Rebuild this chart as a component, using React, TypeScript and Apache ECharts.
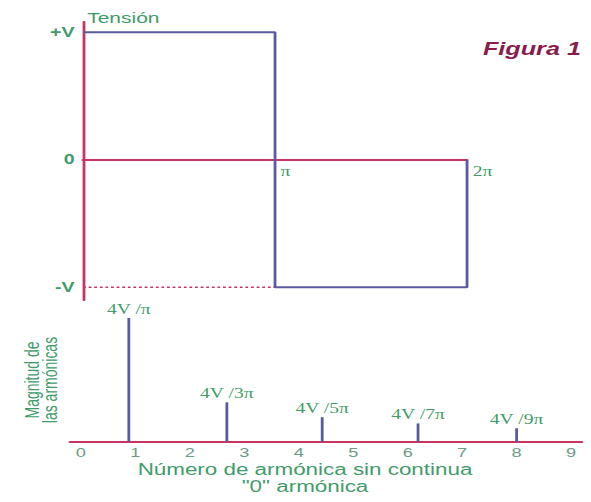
import React, { useEffect, useRef } from 'react';
import * as echarts from 'echarts';

// Square wave (x in units of π, y in units of V)
const waveX = [0, 1, 1, 2, 2];
const waveY = [1, 1, -1, -1, 0];
const dottedX = [0, 1];
const dottedY = [-1, -1];
const levelValues = [1, 0, -1];
const levelLabels = ['+V', '0', '-V'];
const phaseValues = [1, 2];
const phaseLabels = ['π', '2π'];

// Harmonic spectrum
const harmonicTicks = [0, 1, 2, 3, 4, 5, 6, 7, 8, 9];
const harmonicPos = [0.88, 2.68, 4.43, 6.19, 8.0];
const harmonicMag = [1.0, 0.32, 0.2, 0.15, 0.11];
const harmonicLabels = ['4V /π', '4V /3π', '4V /5π', '4V /7π', '4V /9π'];

const GREEN = '#3f9c6a';
const TICK_GREEN = '#6b9c84';
const RED = '#c8345f';
const BLUE = '#5b5a9e';
const FIG = '#8a1c4c';
const SANS = "'Liberation Sans', Arial, sans-serif";
const SERIF = "'Liberation Serif', 'Times New Roman', serif";

const STRETCH = 1.4;
const OUTER_W = 591;
const H = 502;
const INNER_W = OUTER_W / STRETCH;

const TOP_GRID = { top: 22, height: 278 };
const Y_MIN = -1.1;
const Y_MAX = 1.08;

export default function App() {
  const ref = useRef<HTMLDivElement>(null);
  useEffect(() => {
    if (!ref.current) return;
    const chart = echarts.init(ref.current, undefined, { renderer: 'svg' });
    // distance from grid bottom to the zero line (moves the x axis there)
    const zeroOffset = -(TOP_GRID.height * (0 - Y_MIN)) / (Y_MAX - Y_MIN);
    const option: any = {
      animation: false,
      backgroundColor: '#ffffff',
      title: {
        text: 'Figura 1',
        right: 2,
        top: 35,
        textStyle: { color: FIG, fontSize: 18, fontWeight: 'bold', fontStyle: 'italic', fontFamily: SANS },
      },
      grid: [
        { left: 59.3, top: TOP_GRID.top, width: 274.3, height: TOP_GRID.height, outerBoundsMode: 'none' },
        { left: 50, top: 318, width: 365.7, height: 124, outerBoundsMode: 'none' },
      ],
      xAxis: [
        {
          type: 'value', gridIndex: 0, min: 0, max: 2,
          position: 'bottom',
          offset: zeroOffset,
          axisLine: { onZero: false, lineStyle: { color: RED, width: 2 } },
          axisTick: { show: false },
          splitLine: { show: false },
          axisLabel: {
            customValues: phaseValues,
            formatter: (v: number) => phaseLabels[phaseValues.indexOf(v)] ?? '',
            color: GREEN, fontFamily: SERIF, fontSize: 14,
            align: 'left', verticalAlign: 'top', margin: 5, padding: [0, 0, 0, 4],
          },
        },
        {
          type: 'value', gridIndex: 1, min: -0.2, max: 9.2,
          axisLine: { onZero: true, lineStyle: { color: RED, width: 2 } },
          axisTick: { show: false },
          splitLine: { show: false },
          axisLabel: {
            customValues: harmonicTicks,
            color: TICK_GREEN, fontFamily: SANS, fontSize: 13, lineHeight: 13, margin: 4,
          },
          name: 'Número de armónica sin continua\n"0" armónica',
          nameLocation: 'middle',
          nameGap: 19,
          nameMoveOverlap: false,
          nameTextStyle: {
            color: GREEN, fontFamily: SANS, fontSize: 16, lineHeight: 17,
            verticalAlign: 'top', padding: [0, 30, 0, 0],
          },
        },
      ],
      yAxis: [
        {
          type: 'value', gridIndex: 0, min: Y_MIN, max: Y_MAX,
          axisLine: { show: true, onZero: false, lineStyle: { color: RED, width: 2 } },
          axisTick: { show: false },
          splitLine: { show: false },
          axisLabel: {
            customValues: levelValues,
            formatter: (v: number) => levelLabels[levelValues.indexOf(v)] ?? '',
            color: GREEN, fontFamily: SANS, fontSize: 14, fontWeight: 'bold', margin: 6,
          },
          name: 'Tensión',
          nameLocation: 'end',
          nameGap: 4,
          nameTextStyle: {
            color: GREEN, fontFamily: SANS, fontSize: 15,
            align: 'left', verticalAlign: 'middle', padding: [0, 0, 0, 3],
          },
        },
        {
          type: 'value', gridIndex: 1, min: 0, max: 1,
          axisLine: { show: false },
          axisTick: { show: false },
          axisLabel: { show: false },
          splitLine: { show: false },
          name: 'Magnitud de\nlas armónicas',
          nameLocation: 'middle',
          nameRotate: 90,
          nameGap: 7,
          nameMoveOverlap: false,
          nameTextStyle: { color: GREEN, fontFamily: SANS, fontSize: 14, lineHeight: 13 },
        },
      ],
      series: [
        {
          type: 'line', xAxisIndex: 0, yAxisIndex: 0,
          data: dottedX.map((x, i) => [x, dottedY[i]]),
          symbol: 'none',
          lineStyle: { color: RED, width: 1.5, type: [2, 2] },
          z: 2,
        },
        {
          type: 'line', xAxisIndex: 0, yAxisIndex: 0,
          data: waveX.map((x, i) => [x, waveY[i]]),
          symbol: 'none',
          lineStyle: { color: BLUE, width: 2 },
          z: 3,
        },
        {
          type: 'bar', xAxisIndex: 1, yAxisIndex: 1,
          data: harmonicPos.map((x, i) => [x, harmonicMag[i]]),
          barWidth: 2,
          itemStyle: { color: BLUE },
          label: {
            show: true, position: 'top', distance: 2,
            formatter: (p: any) => harmonicLabels[p.dataIndex],
            color: GREEN, fontFamily: SERIF, fontSize: 14,
          },
          z: 3,
        },
      ],
    };
    chart.setOption(option);
    return () => chart.dispose();
  }, []);

  return (
    <div style={{ position: 'absolute', left: 0, top: 0, width: OUTER_W, height: H, overflow: 'hidden', background: '#fff' }}>
      <div
        ref={ref}
        style={{ width: INNER_W, height: H, transform: `scaleX(${STRETCH})`, transformOrigin: '0 0' }}
      />
    </div>
  );
}
